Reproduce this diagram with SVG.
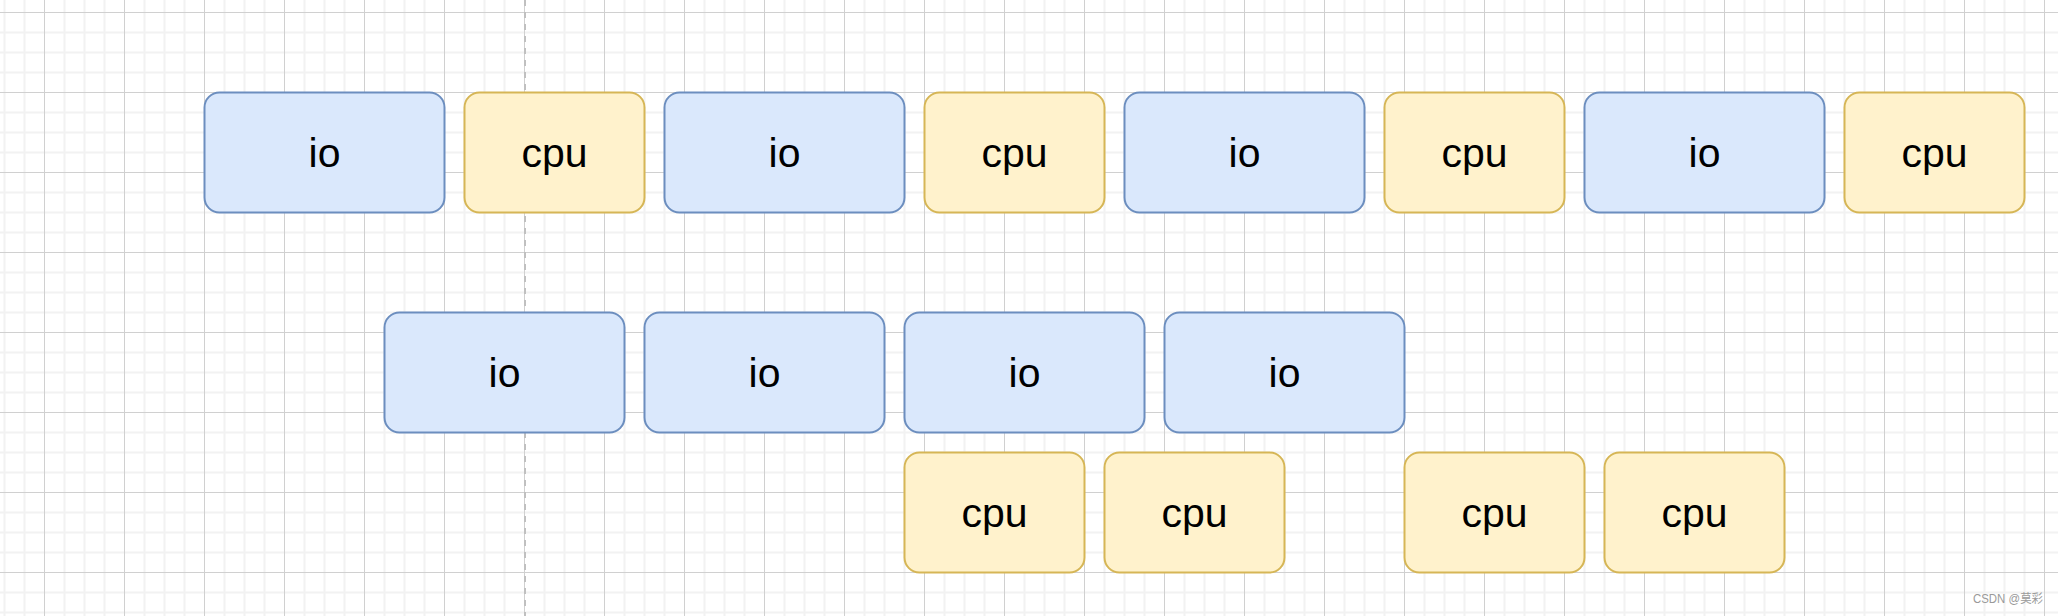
<svg xmlns="http://www.w3.org/2000/svg" width="2058" height="616" viewBox="0 0 2058 616">
<style>
.io rect{fill:#dae8fc;stroke:#6c8ebf;stroke-width:2}
.cpu rect{fill:#fff2cc;stroke:#d6b656;stroke-width:2}
text.lbl{font-family:"Liberation Sans",Arial,sans-serif;font-size:41px;fill:#000;text-anchor:middle}
</style>
<defs>
<pattern id="grid" patternUnits="userSpaceOnUse" x="44" y="12" width="80" height="80">
<path d="M20.5 0V80M40.5 0V80M60.5 0V80M0 20.5H80M0 40.5H80M0 60.5H80" stroke="#f2f2f2" stroke-width="2" fill="none"/>
<path d="M0.5 0V80M0 0.5H80" stroke="#d0d0d0" stroke-width="1" fill="none"/>
</pattern>
</defs>
<rect width="2058" height="616" fill="#fff"/>
<rect width="2058" height="616" fill="url(#grid)"/>
<line x1="525" y1="0" x2="525" y2="616" stroke="#c0c0c0" stroke-width="2" stroke-dasharray="6 6"/>
<g id="connectors"></g>
<g id="io1" class="io"><rect x="204.5" y="92.5" width="240" height="120" rx="15"/><text class="lbl" x="324.5" y="166.5">io</text></g>
<g id="cpu1" class="cpu"><rect x="464.5" y="92.5" width="180" height="120" rx="15"/><text class="lbl" x="554.5" y="166.5">cpu</text></g>
<g id="io2" class="io"><rect x="664.5" y="92.5" width="240" height="120" rx="15"/><text class="lbl" x="784.5" y="166.5">io</text></g>
<g id="cpu2" class="cpu"><rect x="924.5" y="92.5" width="180" height="120" rx="15"/><text class="lbl" x="1014.5" y="166.5">cpu</text></g>
<g id="io3" class="io"><rect x="1124.5" y="92.5" width="240" height="120" rx="15"/><text class="lbl" x="1244.5" y="166.5">io</text></g>
<g id="cpu3" class="cpu"><rect x="1384.5" y="92.5" width="180" height="120" rx="15"/><text class="lbl" x="1474.5" y="166.5">cpu</text></g>
<g id="io4" class="io"><rect x="1584.5" y="92.5" width="240" height="120" rx="15"/><text class="lbl" x="1704.5" y="166.5">io</text></g>
<g id="cpu4" class="cpu"><rect x="1844.5" y="92.5" width="180" height="120" rx="15"/><text class="lbl" x="1934.5" y="166.5">cpu</text></g>
<g id="io5" class="io"><rect x="384.5" y="312.5" width="240" height="120" rx="15"/><text class="lbl" x="504.5" y="386.5">io</text></g>
<g id="io6" class="io"><rect x="644.5" y="312.5" width="240" height="120" rx="15"/><text class="lbl" x="764.5" y="386.5">io</text></g>
<g id="io7" class="io"><rect x="904.5" y="312.5" width="240" height="120" rx="15"/><text class="lbl" x="1024.5" y="386.5">io</text></g>
<g id="io8" class="io"><rect x="1164.5" y="312.5" width="240" height="120" rx="15"/><text class="lbl" x="1284.5" y="386.5">io</text></g>
<g id="cpu5" class="cpu"><rect x="904.5" y="452.5" width="180" height="120" rx="15"/><text class="lbl" x="994.5" y="526.5">cpu</text></g>
<g id="cpu6" class="cpu"><rect x="1104.5" y="452.5" width="180" height="120" rx="15"/><text class="lbl" x="1194.5" y="526.5">cpu</text></g>
<g id="cpu7" class="cpu"><rect x="1404.5" y="452.5" width="180" height="120" rx="15"/><text class="lbl" x="1494.5" y="526.5">cpu</text></g>
<g id="cpu8" class="cpu"><rect x="1604.5" y="452.5" width="180" height="120" rx="15"/><text class="lbl" x="1694.5" y="526.5">cpu</text></g>
<text x="1973" y="603" font-family="'Liberation Sans','Noto Sans CJK SC',sans-serif" font-size="12" fill="#9a9a9a" textLength="70" lengthAdjust="spacingAndGlyphs">CSDN @莫彩</text>
</svg>
